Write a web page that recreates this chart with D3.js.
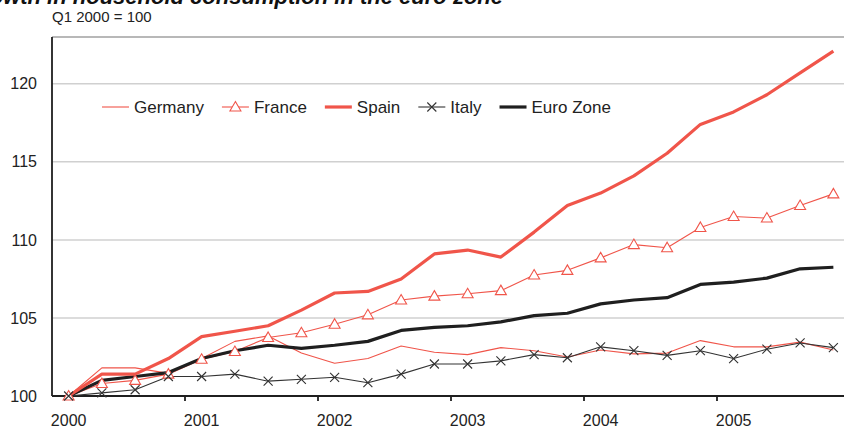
<!DOCTYPE html>
<html>
<head>
<meta charset="utf-8">
<script src="https://cdn.jsdelivr.net/npm/d3@7"></script>
<style>
  body { margin: 0; background: #fff; }
  svg { display: block; font-family: "Liberation Sans", Arial, sans-serif; }
</style>
</head>
<body>
<div id="chart"></div>
<script>
// Quarterly index, Q1 2000 = 100
const years = ["2000", "2001", "2002", "2003", "2004", "2005"];
const quarters = d3.range(24); // 2000Q1 .. 2005Q4

const germany = [100, 101.8, 101.8, 101.45, 102.4, 103.5, 103.85, 102.75, 102.1, 102.4, 103.2, 102.8,
  102.65, 103.1, 102.9, 102.5, 102.95, 102.7, 102.75, 103.55, 103.15, 103.15, 103.45, 102.95];
const france = [100, 100.8, 101.0, 101.4, 102.35, 102.85, 103.75, 104.05, 104.6, 105.2, 106.15, 106.4,
  106.55, 106.75, 107.75, 108.05, 108.85, 109.7, 109.5, 110.8, 111.5, 111.4, 112.2, 112.95];
const spain = [100, 101.4, 101.4, 102.4, 103.8, 104.15, 104.5, 105.5, 106.6, 106.7, 107.5, 109.1,
  109.35, 108.9, 110.5, 112.2, 113.0, 114.1, 115.55, 117.4, 118.2, 119.3, 120.7, 122.1];
const italy = [100, 100.2, 100.4, 101.25, 101.25, 101.4, 100.95, 101.07, 101.2, 100.85, 101.4, 102.05,
  102.05, 102.25, 102.65, 102.45, 103.15, 102.9, 102.6, 102.9, 102.4, 103.0, 103.4, 103.1];
const euroZone = [100, 101.0, 101.25, 101.5, 102.4, 102.9, 103.25, 103.05, 103.25, 103.5, 104.2, 104.4,
  104.5, 104.75, 105.15, 105.3, 105.9, 106.15, 106.3, 107.15, 107.3, 107.55, 108.15, 108.25];
const yTicks = [100, 105, 110, 115, 120];

const red = "#f0554a";
const dark = "#1f1f1f";

const series = [
  { name: "Germany", values: germany, color: red, width: 1.1, marker: null },
  { name: "France", values: france, color: red, width: 1.1, marker: "triangle" },
  { name: "Spain", values: spain, color: red, width: 3.2, marker: null },
  { name: "Italy", values: italy, color: "#333", width: 1.1, marker: "cross" },
  { name: "Euro Zone", values: euroZone, color: dark, width: 3.2, marker: null }
];

const width = 844, height = 430;
const plot = { left: 52, top: 37, bottom: 396, right: 850 };

const svg = d3.select("#chart").append("svg")
  .attr("width", width)
  .attr("height", height);

const x = d3.scaleBand().domain(quarters).range([plot.left, plot.right]);
const cx = q => x(q) + x.bandwidth() / 2;
const y = d3.scaleLinear().domain([100, 123]).range([plot.bottom, plot.top]);

// Title (cropped at the top-left edge, as in the source picture) and subtitle
svg.append("text")
  .attr("x", 503).attr("y", 4)
  .attr("text-anchor", "end")
  .attr("font-size", 22).attr("font-weight", "bold").attr("font-style", "italic")
  .attr("fill", "#111")
  .text("Growth in household consumption in the euro zone");

svg.append("text")
  .attr("x", plot.left).attr("y", 22)
  .attr("font-size", 15).attr("fill", "#222")
  .text("Q1 2000 = 100");

// Gridlines
svg.append("g")
  .selectAll("line")
  .data(yTicks.slice(1))
  .enter().append("line")
  .attr("x1", plot.left).attr("x2", width)
  .attr("y1", d => y(d)).attr("y2", d => y(d))
  .attr("stroke", "#d0d0d0").attr("stroke-width", 1.5);

// Top border
svg.append("line")
  .attr("x1", plot.left).attr("x2", width)
  .attr("y1", plot.top).attr("y2", plot.top)
  .attr("stroke", "#a0a0a0").attr("stroke-width", 1.5);

// Y axis labels
const yAxis = svg.append("g")
  .attr("transform", `translate(${plot.left},0)`)
  .call(d3.axisLeft(y).tickValues(yTicks).tickSize(0).tickPadding(15));
yAxis.select(".domain").remove();
yAxis.selectAll("text")
  .attr("font-size", 16).attr("fill", "#222")
  .attr("font-family", "Liberation Sans, Arial, sans-serif");

svg.append("line")
  .attr("x1", plot.left).attr("x2", plot.left)
  .attr("y1", plot.top).attr("y2", plot.bottom)
  .attr("stroke", dark).attr("stroke-width", 1.8);

// X axis: ticks at year boundaries, labels on Q1 of each year
svg.append("line")
  .attr("x1", plot.left).attr("x2", width)
  .attr("y1", plot.bottom).attr("y2", plot.bottom)
  .attr("stroke", dark).attr("stroke-width", 1.8);

svg.append("g")
  .selectAll("line")
  .data(years.slice(1))
  .enter().append("line")
  .attr("x1", (d, i) => x((i + 1) * 4)).attr("x2", (d, i) => x((i + 1) * 4))
  .attr("y1", plot.bottom).attr("y2", plot.bottom + 5)
  .attr("stroke", dark).attr("stroke-width", 1.8);

svg.append("g")
  .selectAll("text")
  .data(years)
  .enter().append("text")
  .attr("x", (d, i) => cx(i * 4))
  .attr("y", 426)
  .attr("text-anchor", "middle")
  .attr("font-size", 16).attr("fill", "#222")
  .text(d => d);

// Series lines
const line = d3.line().x((d, i) => cx(i)).y(d => y(d));
const drawOrder = [0, 1, 3, 4, 2];

drawOrder.forEach(k => {
  const s = series[k];
  svg.append("path")
    .datum(s.values)
    .attr("fill", "none")
    .attr("stroke", s.color)
    .attr("stroke-width", s.width)
    .attr("stroke-linejoin", "round")
    .attr("d", line);
});

function drawMarker(g, type, color) {
  if (type === "triangle") {
    g.append("path")
      .attr("d", "M0,-5.5L5.5,4L-5.5,4Z")
      .attr("fill", "#fff").attr("stroke", color).attr("stroke-width", 1.1);
  } else if (type === "cross") {
    g.append("path")
      .attr("d", "M-4.5,-4.5L4.5,4.5M-4.5,4.5L4.5,-4.5")
      .attr("stroke", color).attr("stroke-width", 1.1);
  }
}

series.filter(s => s.marker).forEach(s => {
  svg.append("g")
    .selectAll("g")
    .data(s.values)
    .enter().append("g")
    .attr("transform", (d, i) => `translate(${cx(i)},${y(d)})`)
    .each(function () { drawMarker(d3.select(this), s.marker, s.color); });
});

// Legend
const legend = svg.append("g").attr("transform", "translate(102,107)");
let lx = 0;
series.forEach(s => {
  const item = legend.append("g").attr("transform", `translate(${lx},0)`);
  item.append("line")
    .attr("x1", 0).attr("x2", 27)
    .attr("stroke", s.color).attr("stroke-width", s.width);
  if (s.marker) {
    const m = item.append("g").attr("transform", "translate(13.5,0)");
    drawMarker(m, s.marker, s.color);
  }
  const t = item.append("text")
    .attr("x", 32).attr("y", 6)
    .attr("font-size", 17).attr("fill", "#222")
    .text(s.name);
  lx += 32 + t.node().getComputedTextLength() + 18;
});
</script>
</body>
</html>
